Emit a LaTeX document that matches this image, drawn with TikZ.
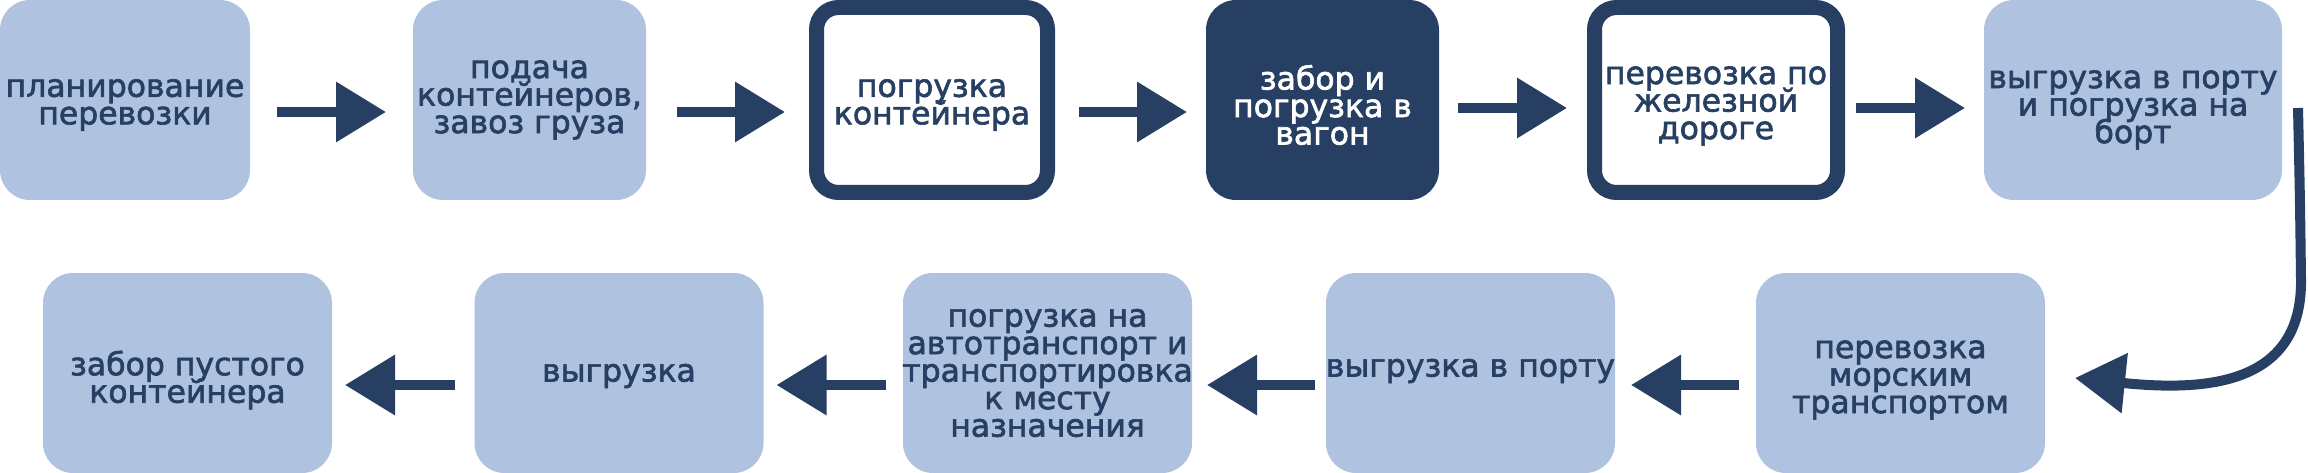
\documentclass[tikz,border=0pt]{standalone}
\usepackage{fontspec}
\newfontfamily\lblfont{DejaVu Sans}[FakeBold=2]
\usetikzlibrary{arrows.meta}
\definecolor{lightblue}{HTML}{AFC3E0}
\definecolor{navy}{HTML}{263F63}
\newcommand\lblsetup{\lblfont\fontsize{31.5pt}{27.5pt}\selectfont\setlength\lineskiplimit{-100pt}\setlength\lineskip{0pt}}
\tikzset{
  lightbox/.style={rectangle, rounded corners=30pt, fill=lightblue, draw=none, inner sep=0pt, outer sep=0pt, minimum height=200pt},
  darkbox/.style={rectangle, rounded corners=30pt, fill=navy, draw=none, inner sep=0pt, outer sep=0pt, minimum height=200pt},
  framebox/.style={rectangle, rounded corners=22pt, fill=white, draw=navy, line width=15pt, inner sep=0pt, outer sep=0pt, minimum height=185pt},
  lbl/.style={align=center, text=navy, inner sep=0pt, font=\lblsetup},
  lblw/.style={lbl, text=white},
  flow/.style={draw=navy, line width=10pt, -{Triangle[length=50pt,width=58pt]}},
}
\begin{document}
\begin{tikzpicture}[x=1pt,y=-1pt]
\useasboundingbox[fill=white] (0,0) rectangle (2308,473);
% top row
\node[lightbox, minimum width=250pt] (b1) at (125,100) {};
\node[lightbox, minimum width=233pt] (b2) at (529.5,100) {};
\node[framebox, minimum width=231pt] (b3) at (932,100) {};
\node[darkbox, minimum width=233pt] (b4) at (1322.5,100) {};
\node[framebox, minimum width=243pt] (b5) at (1716,100) {};
\node[lightbox, minimum width=298pt] (b6) at (2133,100) {};
% bottom row
\node[lightbox, minimum width=289pt] (c5) at (1900.5,373) {};
\node[lightbox, minimum width=289pt] (c4) at (1470.5,373) {};
\node[lightbox, minimum width=289pt] (c3) at (1047.5,373) {};
\node[lightbox, minimum width=289pt] (c2) at (619,373) {};
\node[lightbox, minimum width=289pt] (c1) at (187.5,373) {};
% labels
\node[lbl] (t1) at ([yshift=-5pt]b1.center) {планирование\\перевозки};
\node[lbl] (t2) at ([yshift=0pt]b2.center) {подача\\контейнеров,\\завоз груза};
\node[lbl] (t3) at ([yshift=-5pt]b3.center) {погрузка\\контейнера};
\node[lblw] (t4) at ([yshift=-5pt]b4.center) {забор и\\погрузка в\\вагон};
\node[lbl] (t5) at ([yshift=-6pt]b5.center) {перевозка по\\железной\\дороге};
\node[lbl] (t6) at ([yshift=-10pt]b6.center) {выгрузка в порту\\и погрузка на\\борт};
\node[lbl] (u5) at ([yshift=-7pt]c5.center) {перевозка\\морским\\транспортом};
\node[lbl] (u4) at ([yshift=2pt]c4.center) {выгрузка в порту};
\node[lbl] (u3) at ([yshift=0pt]c3.center) {погрузка на\\автотранспорт и\\транспортировка\\к месту\\назначения};
\node[lbl] (u2) at ([yshift=-3pt]c2.center) {выгрузка};
\node[lbl] (u1) at ([yshift=-7pt]c1.center) {забор пустого\\контейнера};
% arrows top
\draw[flow, shorten <=27pt, shorten >=27pt] ([yshift=-12pt]b1.east) -- ([yshift=-12pt]b2.west);
\draw[flow, shorten <=31pt, shorten >=31.5pt] ([yshift=-12pt]b2.east) -- ([yshift=-12pt]b3.west);
\draw[flow, shorten <=31.5pt, shorten >=19pt] ([yshift=-12pt]b3.east) -- ([yshift=-12pt]b4.west);
\draw[flow, shorten <=19pt, shorten >=27.5pt] ([yshift=-8pt]b4.east) -- ([yshift=-8pt]b5.west);
\draw[flow, shorten <=18.5pt, shorten >=19pt] ([yshift=-8pt]b5.east) -- ([yshift=-8pt]b6.west);
% curved arrow
\draw[flow] ([xshift=16pt,yshift=-8pt]b6.east) .. controls ([xshift=18pt,yshift=-100pt]b6.east) .. ([xshift=19pt,yshift=-180pt]b6.east)
  .. controls ([xshift=257pt,yshift=-10pt]c5.east) and ([xshift=165pt,yshift=-19pt]c5.east) .. ([xshift=30pt,yshift=-5pt]c5.east);
% arrows bottom
\draw[flow, shorten <=17pt, shorten >=16pt] ([yshift=-12pt]c5.west) -- ([yshift=-12pt]c4.east);
\draw[flow, shorten <=11pt, shorten >=15pt] ([yshift=-12pt]c4.west) -- ([yshift=-12pt]c3.east);
\draw[flow, shorten <=17pt, shorten >=13pt] ([yshift=-12pt]c3.west) -- ([yshift=-12pt]c2.east);
\draw[flow, shorten <=20pt, shorten >=13pt] ([yshift=-12pt]c2.west) -- ([yshift=-12pt]c1.east);
\end{tikzpicture}
\end{document}
